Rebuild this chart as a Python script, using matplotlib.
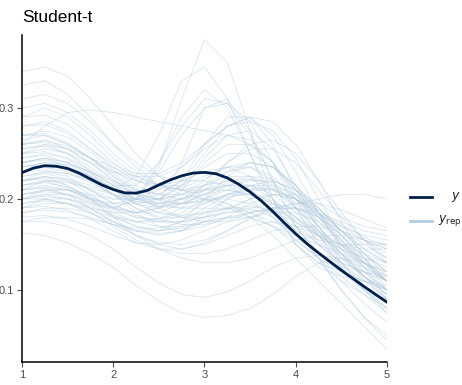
import matplotlib
matplotlib.use('Agg')
import matplotlib.pyplot as plt
from matplotlib.lines import Line2D
import numpy as np

# grid of the observed density (read every 0.125)
y_x = [1, 1.125, 1.25, 1.375, 1.5, 1.625, 1.75, 1.875, 2, 2.125, 2.25, 2.375, 2.5,
       2.625, 2.75, 2.875, 3, 3.125, 3.25, 3.375, 3.5, 3.625, 3.75, 3.875, 4,
       4.125, 4.25, 4.375, 4.5, 4.625, 4.75, 4.875, 5]
y_dens = [0.229, 0.234, 0.2366, 0.236, 0.2335, 0.2285, 0.222, 0.2155, 0.2105,
          0.2068, 0.2065, 0.2095, 0.2155, 0.221, 0.2255, 0.2285, 0.2293, 0.2278,
          0.2232, 0.2162, 0.2078, 0.1978, 0.1862, 0.1738, 0.1618, 0.1508, 0.1408,
          0.1312, 0.1218, 0.1128, 0.1038, 0.0952, 0.0868]

# grid of the replicated densities (read every 0.25)
yrep_x = [1, 1.25, 1.5, 1.75, 2, 2.25, 2.5, 2.75, 3, 3.25, 3.5, 3.75, 4, 4.25, 4.5, 4.75, 5]
yrep_dens = [
    [0.22, 0.23, 0.225, 0.21, 0.195, 0.2, 0.235, 0.31, 0.375, 0.35, 0.275, 0.2, 0.15, 0.125, 0.115, 0.11, 0.105],
    [0.24, 0.245, 0.235, 0.22, 0.21, 0.225, 0.27, 0.33, 0.345, 0.31, 0.25, 0.19, 0.15, 0.13, 0.12, 0.11, 0.10],
    [0.2, 0.21, 0.21, 0.2, 0.19, 0.2, 0.24, 0.29, 0.32, 0.3, 0.25, 0.2, 0.16, 0.14, 0.13, 0.12, 0.11],
    [0.25, 0.26, 0.25, 0.23, 0.215, 0.215, 0.24, 0.28, 0.31, 0.305, 0.27, 0.22, 0.17, 0.14, 0.12, 0.1, 0.085],
    [0.19, 0.2, 0.2, 0.195, 0.19, 0.2, 0.23, 0.27, 0.3, 0.305, 0.285, 0.24, 0.19, 0.15, 0.13, 0.12, 0.11],
    [0.34, 0.345, 0.335, 0.31, 0.28, 0.25, 0.225, 0.21, 0.2, 0.19, 0.18, 0.17, 0.16, 0.15, 0.14, 0.13, 0.12],
    [0.325, 0.33, 0.315, 0.29, 0.26, 0.235, 0.215, 0.205, 0.2, 0.195, 0.185, 0.17, 0.15, 0.13, 0.11, 0.095, 0.08],
    [0.26, 0.28, 0.295, 0.298, 0.295, 0.29, 0.285, 0.28, 0.275, 0.27, 0.26, 0.24, 0.21, 0.18, 0.15, 0.125, 0.1],
    [0.31, 0.315, 0.305, 0.285, 0.26, 0.24, 0.225, 0.22, 0.22, 0.215, 0.2, 0.18, 0.155, 0.135, 0.12, 0.11, 0.1],
    [0.29, 0.3, 0.29, 0.27, 0.245, 0.225, 0.215, 0.215, 0.225, 0.235, 0.235, 0.22, 0.19, 0.16, 0.135, 0.115, 0.1],
    [0.21, 0.22, 0.22, 0.21, 0.2, 0.2, 0.21, 0.235, 0.26, 0.28, 0.285, 0.275, 0.245, 0.2, 0.16, 0.13, 0.11],
    [0.163, 0.16, 0.152, 0.14, 0.125, 0.105, 0.088, 0.075, 0.07, 0.072, 0.08, 0.095, 0.115, 0.13, 0.135, 0.13, 0.12],
    [0.175, 0.175, 0.17, 0.16, 0.145, 0.125, 0.108, 0.095, 0.092, 0.098, 0.11, 0.125, 0.135, 0.138, 0.135, 0.125, 0.11],
    [0.2, 0.205, 0.2, 0.19, 0.175, 0.16, 0.15, 0.145, 0.15, 0.16, 0.17, 0.175, 0.17, 0.16, 0.145, 0.13, 0.115],
    [0.22, 0.225, 0.215, 0.2, 0.185, 0.175, 0.17, 0.17, 0.175, 0.18, 0.185, 0.19, 0.195, 0.2, 0.205, 0.205, 0.2],
    [0.235, 0.24, 0.235, 0.225, 0.21, 0.195, 0.185, 0.18, 0.18, 0.185, 0.19, 0.195, 0.19, 0.18, 0.165, 0.15, 0.135],
    [0.255, 0.26, 0.255, 0.245, 0.235, 0.225, 0.215, 0.21, 0.205, 0.195, 0.18, 0.16, 0.135, 0.11, 0.085, 0.06, 0.035],
    [0.27, 0.27, 0.26, 0.245, 0.23, 0.22, 0.215, 0.22, 0.23, 0.235, 0.225, 0.2, 0.17, 0.135, 0.1, 0.07, 0.05],
    [0.23, 0.235, 0.23, 0.22, 0.205, 0.19, 0.18, 0.18, 0.185, 0.19, 0.19, 0.18, 0.16, 0.135, 0.11, 0.085, 0.065],
    [0.215, 0.22, 0.218, 0.212, 0.205, 0.2, 0.2, 0.205, 0.215, 0.225, 0.225, 0.215, 0.195, 0.17, 0.14, 0.115, 0.09],
    [0.245, 0.25, 0.245, 0.232, 0.215, 0.2, 0.195, 0.2, 0.215, 0.23, 0.235, 0.225, 0.2, 0.17, 0.145, 0.125, 0.11],
    [0.28, 0.285, 0.275, 0.255, 0.235, 0.22, 0.21, 0.21, 0.215, 0.22, 0.215, 0.2, 0.18, 0.16, 0.145, 0.135, 0.13],
    [0.19, 0.195, 0.195, 0.19, 0.185, 0.185, 0.19, 0.2, 0.21, 0.215, 0.21, 0.195, 0.175, 0.16, 0.15, 0.145, 0.145],
    [0.205, 0.21, 0.205, 0.195, 0.18, 0.17, 0.165, 0.17, 0.185, 0.2, 0.21, 0.21, 0.2, 0.185, 0.17, 0.16, 0.155],
    [0.26, 0.265, 0.255, 0.24, 0.22, 0.205, 0.195, 0.19, 0.19, 0.19, 0.185, 0.175, 0.165, 0.155, 0.15, 0.15, 0.15],
    [0.225, 0.23, 0.228, 0.22, 0.21, 0.2, 0.195, 0.195, 0.2, 0.21, 0.215, 0.21, 0.19, 0.165, 0.14, 0.115, 0.095],
    [0.185, 0.19, 0.19, 0.185, 0.175, 0.165, 0.16, 0.165, 0.18, 0.2, 0.215, 0.22, 0.21, 0.19, 0.165, 0.14, 0.115],
    [0.3, 0.305, 0.295, 0.275, 0.25, 0.23, 0.215, 0.21, 0.21, 0.21, 0.205, 0.195, 0.18, 0.165, 0.15, 0.14, 0.13],
    [0.21, 0.215, 0.21, 0.2, 0.19, 0.185, 0.19, 0.21, 0.24, 0.26, 0.26, 0.24, 0.205, 0.17, 0.14, 0.115, 0.095],
    [0.24, 0.245, 0.24, 0.228, 0.212, 0.2, 0.2, 0.215, 0.245, 0.27, 0.275, 0.255, 0.215, 0.17, 0.13, 0.1, 0.075],
    [0.195, 0.2, 0.195, 0.185, 0.17, 0.155, 0.145, 0.14, 0.14, 0.145, 0.155, 0.165, 0.17, 0.17, 0.165, 0.155, 0.145],
    [0.22, 0.222, 0.215, 0.2, 0.18, 0.16, 0.145, 0.135, 0.13, 0.13, 0.135, 0.145, 0.155, 0.16, 0.16, 0.155, 0.145],
    [0.25, 0.255, 0.25, 0.24, 0.23, 0.225, 0.225, 0.235, 0.255, 0.27, 0.265, 0.24, 0.2, 0.16, 0.125, 0.1, 0.08],
    [0.27, 0.275, 0.268, 0.252, 0.232, 0.215, 0.205, 0.2, 0.2, 0.2, 0.195, 0.185, 0.17, 0.15, 0.13, 0.11, 0.09],
    [0.2, 0.205, 0.205, 0.2, 0.195, 0.195, 0.2, 0.215, 0.235, 0.25, 0.25, 0.235, 0.21, 0.185, 0.165, 0.155, 0.15],
    [0.215, 0.22, 0.212, 0.198, 0.182, 0.17, 0.165, 0.168, 0.175, 0.18, 0.18, 0.17, 0.155, 0.135, 0.115, 0.095, 0.075],
    [0.23, 0.232, 0.228, 0.218, 0.205, 0.195, 0.19, 0.195, 0.205, 0.215, 0.22, 0.22, 0.21, 0.195, 0.18, 0.17, 0.165],
    [0.175, 0.18, 0.18, 0.178, 0.172, 0.168, 0.168, 0.175, 0.19, 0.205, 0.215, 0.215, 0.205, 0.185, 0.16, 0.135, 0.11],
    [0.26, 0.262, 0.255, 0.24, 0.222, 0.205, 0.19, 0.18, 0.175, 0.175, 0.18, 0.185, 0.185, 0.175, 0.155, 0.125, 0.09],
    [0.245, 0.248, 0.24, 0.225, 0.205, 0.185, 0.17, 0.165, 0.17, 0.18, 0.195, 0.205, 0.205, 0.19, 0.165, 0.14, 0.12],
    [0.21, 0.212, 0.205, 0.19, 0.175, 0.165, 0.165, 0.175, 0.2, 0.225, 0.24, 0.235, 0.215, 0.185, 0.155, 0.13, 0.11],
    [0.28, 0.282, 0.272, 0.255, 0.238, 0.228, 0.228, 0.24, 0.26, 0.28, 0.29, 0.285, 0.26, 0.22, 0.175, 0.135, 0.1],
    [0.19, 0.192, 0.188, 0.178, 0.165, 0.152, 0.145, 0.145, 0.152, 0.165, 0.18, 0.19, 0.19, 0.18, 0.16, 0.135, 0.11],
    [0.235, 0.24, 0.238, 0.23, 0.22, 0.21, 0.205, 0.205, 0.21, 0.215, 0.215, 0.205, 0.185, 0.16, 0.13, 0.105, 0.085],
    [0.255, 0.258, 0.25, 0.235, 0.218, 0.205, 0.2, 0.205, 0.22, 0.24, 0.255, 0.255, 0.24, 0.21, 0.18, 0.155, 0.135],
    [0.2, 0.203, 0.2, 0.192, 0.182, 0.175, 0.175, 0.182, 0.195, 0.205, 0.205, 0.195, 0.175, 0.15, 0.125, 0.1, 0.08],
    [0.225, 0.228, 0.222, 0.21, 0.195, 0.182, 0.175, 0.175, 0.18, 0.19, 0.2, 0.205, 0.2, 0.185, 0.165, 0.145, 0.13],
    [0.29, 0.292, 0.282, 0.262, 0.24, 0.222, 0.212, 0.212, 0.222, 0.235, 0.24, 0.235, 0.215, 0.185, 0.15, 0.12, 0.1],
    [0.24, 0.245, 0.24, 0.23, 0.215, 0.205, 0.2, 0.2, 0.205, 0.21, 0.205, 0.19, 0.165, 0.135, 0.1, 0.07, 0.045],
    [0.18, 0.182, 0.178, 0.17, 0.16, 0.152, 0.15, 0.155, 0.165, 0.175, 0.185, 0.19, 0.19, 0.185, 0.175, 0.165, 0.16],
    [0.205, 0.21, 0.21, 0.205, 0.2, 0.2, 0.205, 0.22, 0.25, 0.28, 0.29, 0.27, 0.23, 0.185, 0.145, 0.115, 0.095],
    [0.22, 0.225, 0.22, 0.205, 0.19, 0.185, 0.195, 0.24, 0.3, 0.31, 0.275, 0.22, 0.17, 0.14, 0.125, 0.12, 0.115],
    [0.265, 0.27, 0.26, 0.245, 0.225, 0.21, 0.205, 0.22, 0.26, 0.29, 0.29, 0.26, 0.21, 0.165, 0.135, 0.115, 0.1],
    [0.23, 0.236, 0.234, 0.225, 0.212, 0.2, 0.192, 0.19, 0.195, 0.205, 0.212, 0.212, 0.2, 0.18, 0.155, 0.13, 0.11],
    [0.215, 0.218, 0.213, 0.203, 0.19, 0.18, 0.178, 0.185, 0.2, 0.215, 0.222, 0.218, 0.2, 0.175, 0.15, 0.13, 0.115],
    [0.25, 0.252, 0.244, 0.228, 0.21, 0.195, 0.185, 0.182, 0.185, 0.19, 0.192, 0.188, 0.178, 0.163, 0.148, 0.135, 0.125],
    [0.205, 0.208, 0.205, 0.197, 0.188, 0.18, 0.175, 0.175, 0.18, 0.185, 0.188, 0.185, 0.175, 0.16, 0.14, 0.12, 0.1],
    [0.24, 0.243, 0.237, 0.225, 0.21, 0.198, 0.192, 0.195, 0.205, 0.218, 0.225, 0.222, 0.205, 0.18, 0.152, 0.128, 0.11],
    [0.195, 0.198, 0.195, 0.188, 0.18, 0.175, 0.178, 0.19, 0.21, 0.23, 0.24, 0.235, 0.215, 0.19, 0.165, 0.145, 0.13],
    [0.27, 0.272, 0.262, 0.245, 0.225, 0.208, 0.198, 0.195, 0.198, 0.205, 0.21, 0.21, 0.2, 0.182, 0.16, 0.14, 0.12],
    [0.22, 0.224, 0.222, 0.215, 0.205, 0.197, 0.195, 0.2, 0.21, 0.22, 0.222, 0.212, 0.192, 0.165, 0.138, 0.112, 0.09],
    [0.185, 0.188, 0.186, 0.18, 0.172, 0.165, 0.162, 0.165, 0.175, 0.188, 0.2, 0.205, 0.2, 0.188, 0.172, 0.158, 0.148],
    [0.26, 0.264, 0.258, 0.245, 0.228, 0.212, 0.2, 0.195, 0.197, 0.203, 0.205, 0.198, 0.18, 0.155, 0.128, 0.105, 0.088],
    [0.21, 0.213, 0.21, 0.202, 0.192, 0.185, 0.185, 0.195, 0.215, 0.24, 0.26, 0.265, 0.25, 0.22, 0.185, 0.155, 0.13],
    [0.235, 0.238, 0.232, 0.22, 0.205, 0.19, 0.178, 0.172, 0.172, 0.178, 0.185, 0.19, 0.19, 0.183, 0.17, 0.155, 0.14],
    [0.2, 0.2, 0.195, 0.185, 0.172, 0.16, 0.152, 0.15, 0.155, 0.165, 0.178, 0.19, 0.195, 0.195, 0.188, 0.178, 0.168],
]

x_ticks = [1, 2, 3, 4, 5]
y_ticks = [0.1, 0.2, 0.3]
title = "Student-t"

dark = '#011f4b'
light = '#b3cde0'

plt.rcParams['font.family'] = ['Liberation Sans', 'DejaVu Sans']

fig = plt.figure(figsize=(4.62, 3.85), dpi=100)
ax = fig.add_axes([0.0476, 0.0597, 0.79, 0.849])

for d in yrep_dens:
    ax.plot(yrep_x, d, color=light, lw=0.55, alpha=0.55, solid_joinstyle='round')
ax.plot(y_x, y_dens, color=dark, lw=2.0, solid_capstyle='round', solid_joinstyle='round')

ax.set_xlim(1, 5)
ax.set_ylim(0.021, 0.38)
ax.set_xticks(x_ticks)
ax.set_xticklabels([str(t) for t in x_ticks])
ax.set_yticks(y_ticks)
ax.set_yticklabels(['0.1', '0.2', '0.3'])

for s in ['top', 'right']:
    ax.spines[s].set_visible(False)
for s in ['left', 'bottom']:
    ax.spines[s].set_linewidth(1.1)
    ax.spines[s].set_color('black')
ax.tick_params(axis='both', length=3.5, width=0.8, color='#4d4d4d',
               labelcolor='#4d4d4d', labelsize=8, pad=2)

fig.text(22 / 462, 1 - 18 / 385, title, fontsize=12.5, ha='left', va='center')

# legend drawn by hand to match ggplot layout
fig.add_artist(Line2D([410 / 462, 432 / 462], [1 - 197 / 385] * 2, color=dark, lw=2.0,
                      transform=fig.transFigure))
fig.add_artist(Line2D([410 / 462, 432 / 462], [1 - 221 / 385] * 2, color=light, lw=2.0,
                      transform=fig.transFigure))
fig.text(456 / 462, 1 - 197 / 385, r'$y$', fontsize=9, ha='center', va='center', color='#222222')
fig.text(438 / 462, 1 - 221 / 385, r'$y_{\mathrm{rep}}$', fontsize=9, ha='left', va='center', color='#222222')

fig.savefig('out.png', dpi=100)
